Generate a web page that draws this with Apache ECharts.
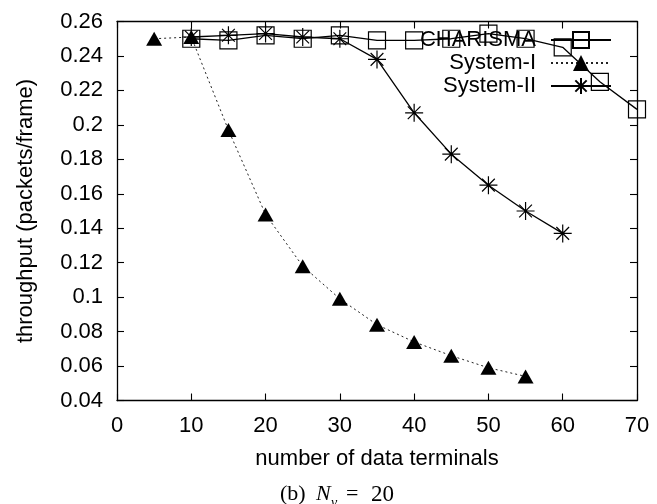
<!DOCTYPE html>
<html>
<head>
<meta charset="utf-8">
<script src="https://cdn.jsdelivr.net/npm/echarts@6/dist/echarts.min.js"></script>
<style>
  html, body { margin: 0; padding: 0; background: #fff; }
  #chart { width: 657px; height: 504px; }
</style>
</head>
<body>
<div id="chart"></div>
<script>
// Throughput versus number of data terminals (N_v = 20)
const xTickValues = [0, 10, 20, 30, 40, 50, 60, 70];
const yTickValues = [0.04, 0.06, 0.08, 0.1, 0.12, 0.14, 0.16, 0.18, 0.2, 0.22, 0.24, 0.26];

const charismaTerminals = [10, 15, 20, 25, 30, 35, 40, 45, 50, 55, 60, 65, 70];
const charismaThroughput = [0.250, 0.249, 0.252, 0.250, 0.252, 0.249, 0.249, 0.250, 0.253, 0.250, 0.245, 0.225, 0.209];

const system1Terminals = [5, 10, 15, 20, 25, 30, 35, 40, 45, 50, 55];
const system1Throughput = [0.250, 0.251, 0.197, 0.148, 0.118, 0.099, 0.084, 0.074, 0.066, 0.059, 0.054];

const system2Terminals = [10, 15, 20, 25, 30, 35, 40, 45, 50, 55, 60];
const system2Throughput = [0.251, 0.252, 0.253, 0.251, 0.250, 0.238, 0.207, 0.183, 0.165, 0.150, 0.137];

const seriesNames = ['CHARISMA', 'System-I', 'System-II'];

const zip = (xs, ys) => xs.map((x, i) => [x, ys[i]]);

const SANS = '"Liberation Sans", Arial, Helvetica, sans-serif';
const SERIF = '"Liberation Serif", "Times New Roman", serif';
const INK = '#000';

const xMin = xTickValues[0];
const xMax = xTickValues[xTickValues.length - 1];
const xStep = xTickValues[1] - xTickValues[0];
const yMin = yTickValues[0];
const yMax = yTickValues[yTickValues.length - 1];
const yStep = +(yTickValues[1] - yTickValues[0]).toFixed(4);

const fmtY = v => String(+v.toFixed(2));

const frameLine = { show: true, onZero: false, lineStyle: { color: INK, width: 1.3 } };
const innerTick = { show: true, inside: true, length: 7, lineStyle: { color: INK, width: 1.1 } };

const asterisk = 'path://M10,0L10,20M0,10L20,10M2.93,2.93L17.07,17.07M2.93,17.07L17.07,2.93';

const chart = echarts.init(document.getElementById('chart'), null, { renderer: 'canvas' });

chart.setOption({
  backgroundColor: '#fff',
  animation: false,
  grid: { left: 117, right: 20, top: 21.5, bottom: 103.5, containLabel: false },
  legend: {
    data: seriesNames,
    orient: 'vertical',
    align: 'right',
    right: 45,
    top: 29,
    padding: 0,
    itemWidth: 60,
    itemHeight: 20,
    itemGap: 1,
    selectedMode: false,
    textStyle: { fontFamily: SANS, fontSize: 22, color: INK, padding: [0, 10, 0, 0] }
  },
  xAxis: [
    {
      type: 'value', position: 'bottom', min: xMin, max: xMax, interval: xStep,
      axisLine: frameLine, axisTick: innerTick, splitLine: { show: false },
      axisLabel: { color: INK, fontFamily: SANS, fontSize: 22, margin: 14 },
      name: 'number of data terminals', nameLocation: 'middle', nameGap: 47,
      nameTextStyle: { color: INK, fontFamily: SANS, fontSize: 22 }
    },
    {
      type: 'value', position: 'top', min: xMin, max: xMax, interval: xStep,
      axisLine: frameLine, axisTick: innerTick, splitLine: { show: false },
      axisLabel: { show: false }
    }
  ],
  yAxis: [
    {
      type: 'value', position: 'left', min: yMin, max: yMax, interval: yStep,
      axisLine: frameLine, axisTick: innerTick, splitLine: { show: false },
      axisLabel: { color: INK, fontFamily: SANS, fontSize: 22, margin: 14, formatter: fmtY },
      name: 'throughput (packets/frame)', nameLocation: 'middle', nameGap: 80,
      nameTextStyle: { color: INK, fontFamily: SANS, fontSize: 22 }
    },
    {
      type: 'value', position: 'right', min: yMin, max: yMax, interval: yStep,
      axisLine: frameLine, axisTick: innerTick, splitLine: { show: false },
      axisLabel: { show: false }
    }
  ],
  series: [
    {
      name: seriesNames[0], type: 'line', clip: false,
      data: zip(charismaTerminals, charismaThroughput),
      symbol: 'rect', symbolSize: 17,
      lineStyle: { color: INK, width: 1.3, type: 'solid' },
      itemStyle: { color: 'none', borderColor: INK, borderWidth: 1.2 },
      z: 2
    },
    {
      name: seriesNames[1], type: 'line', clip: false,
      data: zip(system1Terminals, system1Throughput),
      symbol: 'triangle', symbolSize: [16, 14],
      lineStyle: { color: '#222', width: 1, type: [2, 3] },
      itemStyle: { color: INK, borderWidth: 0 },
      z: 3
    },
    {
      name: seriesNames[2], type: 'line', clip: false,
      data: zip(system2Terminals, system2Throughput),
      symbol: asterisk, symbolSize: 18,
      lineStyle: { color: INK, width: 1.3, type: 'solid' },
      itemStyle: { color: 'none', borderColor: INK, borderWidth: 1.2 },
      z: 4
    }
  ],
  // caption below the plot: (b) N_v = 20
  graphic: [
    { type: 'text', left: 280, top: 483, style: { text: '(b)', font: '22px ' + SERIF, fill: INK } },
    { type: 'text', left: 316, top: 483, style: { text: 'N', font: 'italic 22px ' + SERIF, fill: INK } },
    { type: 'text', left: 331, top: 496, style: { text: 'v', font: 'italic 14px ' + SERIF, fill: INK } },
    { type: 'text', left: 346, top: 483, style: { text: '=', font: '22px ' + SERIF, fill: INK } },
    { type: 'text', left: 371, top: 483, style: { text: '20', font: '23px ' + SERIF, fill: INK } }
  ]
});
</script>
</body>
</html>
